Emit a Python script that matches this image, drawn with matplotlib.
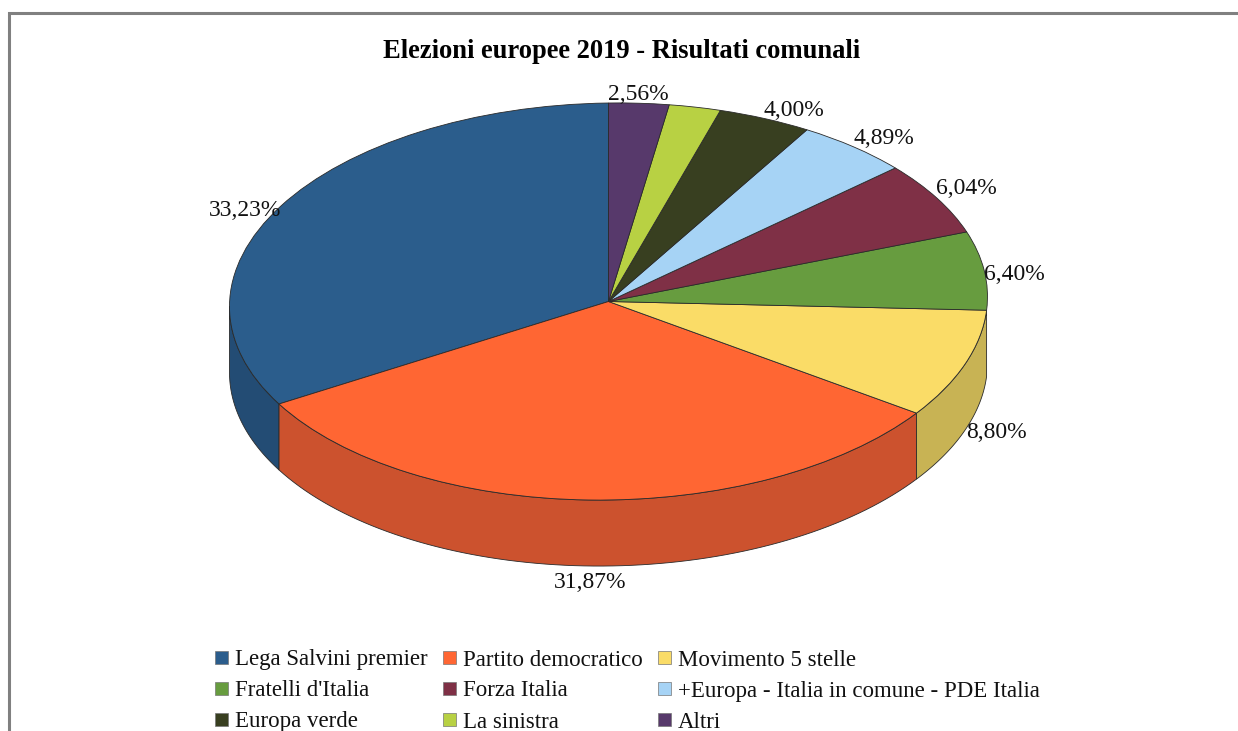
import numpy as np
import matplotlib
matplotlib.use("Agg")
import matplotlib.pyplot as plt
from matplotlib.patches import Rectangle
from matplotlib.transforms import Affine2D

partiti = ["Lega Salvini premier", "Partito democratico", "Movimento 5 stelle",
           "Fratelli d'Italia", "Forza Italia", "+Europa - Italia in comune - PDE Italia",
           "Europa verde", "La sinistra", "Altri"]
valori = [33.23, 31.87, 8.80, 6.40, 6.04, 4.89, 4.00, 2.21, 2.56]
etichette = ["33,23%", "31,87%", "8,80%", "6,40%", "6,04%", "4,89%", "4,00%", None, "2,56%"]
colori = ["#2B5D8C", "#FF6633", "#FADC67", "#679C3F", "#7F3046",
          "#A6D3F5", "#383F20", "#B8D143", "#57396B"]
colori_lato = ["#234C74", "#CC522E", "#C8B354", "#527D32", "#662638",
               "#85A9C4", "#2D321A", "#93A736", "#462E56"]

plt.rcParams['font.family'] = ['Liberation Serif', 'DejaVu Serif']

W, H = 1238, 731
cx, cy = 608.5, 301.5   # centro della torta in pixel
rx, ry = 379, 198.5
spessore = 66 / ry

fig = plt.figure(figsize=(W/100, H/100), dpi=100, facecolor="white")

# torta: raggio 1 nei dati, schiacciata cambiando i limiti degli assi
ax = fig.add_axes([0, 0, 1, 1])
spicchi, _ = ax.pie(valori, colors=colori, startangle=90, counterclock=True, radius=1,
                    wedgeprops=dict(edgecolor="#2a2a2a", linewidth=0.6))
ax.set_aspect("auto")
ax.set_xlim(-cx/rx, (W-cx)/rx)
ax.set_ylim(-(H-cy)/ry, cy/ry)

# nel riferimento la torta pende un poco: destra piu' alta, sinistra piu' bassa
inclina = ax.transData + (Affine2D().translate(-cx, -(H-cy)).skew(0, np.arctan(5/rx))
                          .translate(cx, H-cy))
for s in spicchi:
    s.set_transform(inclina)

# parete laterale, solo per la parte davanti
angolo = 90.0
for v, c in zip(valori, colori_lato):
    fine = angolo + v * 3.6
    a = max(angolo, 180)
    b = min(fine, 360)
    if b > a and b - a > 5:
        t = np.radians(np.linspace(a, b, 80))
        x = np.cos(t)
        y = np.sin(t)
        ax.fill(np.r_[x, x[::-1]], np.r_[y, y[::-1] - spessore], facecolor=c,
                edgecolor="#2a2a2a", linewidth=0.6, zorder=0.5, transform=inclina)
    angolo = fine

# sopra: cornice, titolo, etichette e legenda in pixel
ov = fig.add_axes([0, 0, 1, 1], facecolor="none")
ov.set_xlim(0, W)
ov.set_ylim(H, 0)
ov.axis("off")

ov.plot([9, 9, W], [H, 13, 13], color="#808080", linewidth=2.2, solid_joinstyle="miter")
ov.text(622, 51, "Elezioni europee 2019 - Risultati comunali", ha="center", va="center",
        fontsize=19.1, fontweight="bold", color="black")

pos_etichette = [(245, 210), (590, 583), (996, 433), (1014, 274), (966, 189),
                 (884, 138), (794, 110), None, (638, 94)]
for txt, p in zip(etichette, pos_etichette):
    if txt is not None:
        ov.text(p[0], p[1], txt, ha="center", va="center", fontsize=17, color="#111111")

col_x = [215, 443, 658]
rig_y = [658, 689, 720]
for i, (nome, c) in enumerate(zip(partiti, colori)):
    x = col_x[i % 3]
    y = rig_y[i // 3]
    ov.add_patch(Rectangle((x, y-7), 13, 13, facecolor=c, edgecolor="#777777", linewidth=0.5))
    ov.text(x+20, y+2, nome, ha="left", va="center", fontsize=16.5, color="#111111")

fig.savefig("out.png", dpi=100)
